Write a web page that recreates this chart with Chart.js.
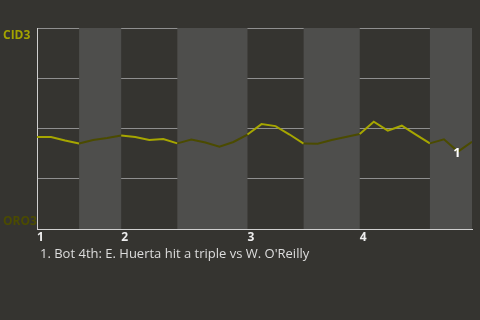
<!DOCTYPE html>
<html>
<head>
<meta charset="utf-8">
<script src="https://cdn.jsdelivr.net/npm/chart.js@4"></script>
<style>
  body { margin: 0; background: #353430; }
  #wrap { width: 480px; height: 320px; position: relative; }
</style>
</head>
<body>
<div id="wrap"><canvas id="wp-chart"></canvas></div>
<script>
// Probabilité de victoire de CID3, un point par passage au bâton
var probCID3 = [45.8, 45.8, 44.0, 42.5, 44.3, 45.3, 46.5, 45.8, 44.3, 44.8,
                42.6, 44.5, 43.0, 41.0, 43.3, 47.0, 52.2, 51.2, 47.0, 42.5,
                42.4, 44.3, 45.8, 47.3, 53.4, 48.9, 51.4, 47.0, 42.6, 44.6,
                38.5, 43.4];
// Début de chaque demi-manche (en passages au bâton)
var demiManches = [0, 3, 6, 10, 15, 19, 23, 28, 31];
var manches = ['1', '2', '3', '4'];
var debutManches = [0, 6, 15, 23];
// Équipes (haut / bas)
var equipes = ['CID3', 'ORO3'];
// Faits marquants
var faitsPA = [30];
var faitsNum = ['1'];
var faitsTexte = ["1. Bot 4th: E. Huerta hit a triple vs W. O'Reilly"];

var JAUNE = '#a6a600';
var OLIVE = '#4b4b00';

function bandeDe(x) {
  for (var i = 0; i < demiManches.length - 1; i++) {
    if (x >= demiManches[i] && x < demiManches[i + 1]) return i;
  }
  return demiManches.length - 2;
}

// Bandes grises pour les demi-manches du bas
var bandes = {
  id: 'bandes',
  beforeDatasetsDraw: function (chart) {
    var c = chart.ctx, a = chart.chartArea, xs = chart.scales.x;
    c.save();
    c.fillStyle = '#4e4e4c';
    for (var i = 1; i < demiManches.length - 1; i += 2) {
      var x0 = xs.getPixelForValue(demiManches[i]);
      var x1 = xs.getPixelForValue(demiManches[i + 1]);
      c.fillRect(x0, a.top, x1 - x0, a.bottom - a.top);
    }
    c.restore();
  }
};

// Numéros des faits et légende en bas
var faits = {
  id: 'faits',
  afterDraw: function (chart) {
    var c = chart.ctx, xs = chart.scales.x, ys = chart.scales.y;
    c.save();
    c.textAlign = 'center';
    c.textBaseline = 'middle';
    c.fillStyle = '#ffffff';
    c.font = 'bold 13px "Open Sans"';
    faitsPA.forEach(function (pa, i) {
      c.fillText(faitsNum[i], xs.getPixelForValue(pa) - 1, ys.getPixelForValue(probCID3[pa]) + 2);
    });
    c.textAlign = 'left';
    c.fillStyle = '#dddddd';
    c.font = '13px "Open Sans"';
    faitsTexte.forEach(function (t, i) {
      c.fillText(t, 40, 254 + i * 16);
    });
    c.restore();
  }
};

var ctx = document.getElementById('wp-chart').getContext('2d');
var chart = new Chart(ctx, {
  type: 'line',
  data: {
    labels: probCID3.map(function (v, i) { return i; }),
    datasets: [{
      data: probCID3.map(function (v, i) { return { x: i, y: v }; }),
      borderWidth: 2,
      pointRadius: 0,
      tension: 0,
      borderColor: JAUNE,
      segment: {
        borderColor: function (s) {
          return bandeDe(s.p0.parsed.x) % 2 === 0 ? JAUNE : OLIVE;
        }
      }
    }]
  },
  options: {
    responsive: true,
    maintainAspectRatio: false,
    animation: false,
    layout: { padding: { left: 3, top: 28, right: 8, bottom: 61 } },
    plugins: { legend: { display: false }, tooltip: { enabled: false } },
    scales: {
      x: {
        type: 'linear',
        min: 0,
        max: probCID3.length - 1,
        afterBuildTicks: function (s) {
          s.ticks = debutManches.map(function (v) { return { value: v }; });
        },
        afterFit: function (s) { s.height = 30; },
        grid: { display: false, drawTicks: false },
        border: { display: true, color: '#cfcfcf', width: 1 },
        ticks: {
          autoSkip: false,
          maxRotation: 0,
          align: 'start',
          padding: 1,
          color: '#eeeeee',
          font: { family: 'Open Sans', size: 12, weight: 'bold' },
          callback: function (v) { return manches[debutManches.indexOf(v)]; }
        }
      },
      y: {
        min: 0,
        max: 100,
        afterBuildTicks: function (s) {
          s.ticks = [0, 25, 50, 75, 100].map(function (v) { return { value: v }; });
        },
        afterFit: function (s) { s.width = 34; },
        grid: { color: '#8f8f8f', drawTicks: false, lineWidth: 1 },
        border: { display: true, color: '#cfcfcf', width: 1 },
        ticks: {
          crossAlign: 'far',
          padding: 0,
          font: { family: 'Open Sans', size: 12, weight: 'bold' },
          color: function (c) {
            if (c.tick.value === 100) return '#a3a300';
            if (c.tick.value === 0) return OLIVE;
            return 'rgba(0,0,0,0)';
          },
          callback: function (v) {
            if (v === 100) return ['', equipes[0]];
            if (v === 0) return [equipes[1], ''];
            return '';
          }
        }
      }
    }
  },
  plugins: [bandes, faits]
});
</script>
</body>
</html>
